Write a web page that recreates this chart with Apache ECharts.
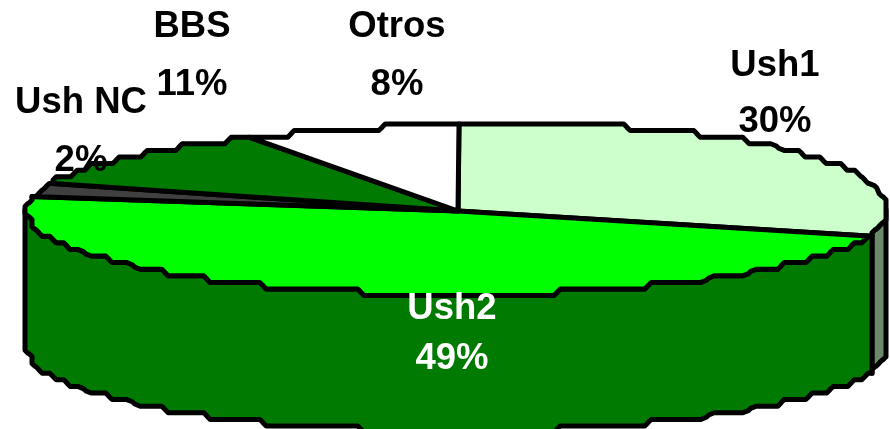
<!DOCTYPE html>
<html>
<head>
<meta charset="utf-8">
<title>Pie</title>
<script src="https://cdn.jsdelivr.net/npm/echarts@6/dist/echarts.min.js"></script>
<style>
  html, body { margin: 0; padding: 0; background: #fff; }
  #chart { width: 890px; height: 429px; }
</style>
</head>
<body>
<div id="chart"></div>
<script>
// clockwise from twelve o'clock
const categories = ['Ush1', 'Ush2', 'Ush NC', 'BBS', 'Otros'];
const values = [29.5, 48.5, 2.4, 11.4, 8.2];
const topColors = ['#ccffcc', '#00ff00', '#404040', '#007a00', '#ffffff'];
const sideColors = ['#6b8a6b', '#007a00', '#202020', '#003d00', '#808080'];
const labelColors = ['#000', '#fff', '#000', '#000', '#000'];
const labelX = [775, 452, 81, 192, 397];
const labelY = [66, 309, 103, 27, 27];
const percentY = [122, 359, 161, 85, 85];

const cx = 458;
const cy = 211;
const rx = 431;
const ryBack = 87;
const ryFront = 83.5;
const depth = 137;
const gridX = 7;
const gridY = 6.6;
const cut = 3.2;

const total = values.reduce((a, b) => a + b, 0);
const starts = [];
let sum = 0;
values.forEach((v) => {
  starts.push((sum / total) * 360);
  sum += v;
});

function rimPoint(deg) {
  const t = (deg * Math.PI) / 180;
  const s = Math.sin(t);
  const c = Math.cos(t);
  const x = cx + rx * s;
  let y = cy - ryFront * c;
  if (c > 0) {
    // the back edge of the original leans to the right
    const lean = s > 0 ? 60 * c * c : 45 * c * c * c * c;
    const u = Math.max(-1, Math.min(1, s - lean / rx));
    y = cy - ryBack * Math.sqrt(1 - u * u);
  }
  // the original outline is snapped to a coarse device grid
  return [Math.round((x - 25) / gridX) * gridX + 25, Math.round((y - 124) / gridY) * gridY + 124];
}

// stepped outline between two angles, with the corners bevelled
function rim(a, b) {
  const raw = [];
  for (let d = a; d < b; d += 0.1) {
    const p = rimPoint(d);
    const last = raw[raw.length - 1];
    if (!last || last[0] !== p[0] || last[1] !== p[1]) raw.push(p);
  }
  raw.push(rimPoint(b));
  const out = [raw[0]];
  for (let i = 1; i < raw.length - 1; i += 1) {
    [raw[i - 1], raw[i + 1]].forEach((q) => {
      const dx = q[0] - raw[i][0];
      const dy = q[1] - raw[i][1];
      const len = Math.hypot(dx, dy) || 1;
      const r = Math.min(cut, len / 2) / len;
      out.push([raw[i][0] + dx * r, raw[i][1] + dy * r]);
    });
  }
  out.push(raw[raw.length - 1]);
  return out;
}

const edge = { stroke: '#000', lineWidth: 5, lineJoin: 'round' };

function endOf(i) {
  return i + 1 < starts.length ? starts[i + 1] : 360;
}

function renderSide(params) {
  const i = params.dataIndex;
  const a = Math.max(starts[i], 90);
  const b = Math.min(endOf(i), 270);
  if (a >= b) return null;
  const upper = rim(a, b);
  const lower = upper.map((p) => [p[0], p[1] + depth]).reverse();
  return {
    type: 'polygon',
    shape: { points: upper.concat(lower) },
    style: { fill: sideColors[i], ...edge },
  };
}

function renderTop(params) {
  const i = params.dataIndex;
  return {
    type: 'polygon',
    shape: { points: [[cx, cy]].concat(rim(starts[i], endOf(i))) },
    style: { fill: topColors[i], ...edge },
  };
}

function renderLabel(params) {
  const i = params.dataIndex;
  const textStyle = (text, y) => ({
    type: 'text',
    style: {
      text,
      x: labelX[i],
      y,
      fill: labelColors[i],
      font: 'bold 36.5px "Liberation Sans", Arial, sans-serif',
      align: 'center',
      verticalAlign: 'middle',
    },
  });
  return {
    type: 'group',
    children: [
      textStyle(categories[i], labelY[i]),
      textStyle(`${Math.round(values[i])}%`, percentY[i]),
    ],
  };
}

const chart = echarts.init(document.getElementById('chart'), null, { renderer: 'canvas' });
const baseSeries = { type: 'custom', coordinateSystem: 'none', data: values, silent: true, animation: false, clip: false };
chart.setOption({
  backgroundColor: '#ffffff',
  animation: false,
  series: [
    { ...baseSeries, name: 'side', z: 1, renderItem: renderSide },
    { ...baseSeries, name: 'top', z: 2, renderItem: renderTop },
    { ...baseSeries, name: 'label', z: 3, renderItem: renderLabel },
  ],
});
</script>
</body>
</html>
